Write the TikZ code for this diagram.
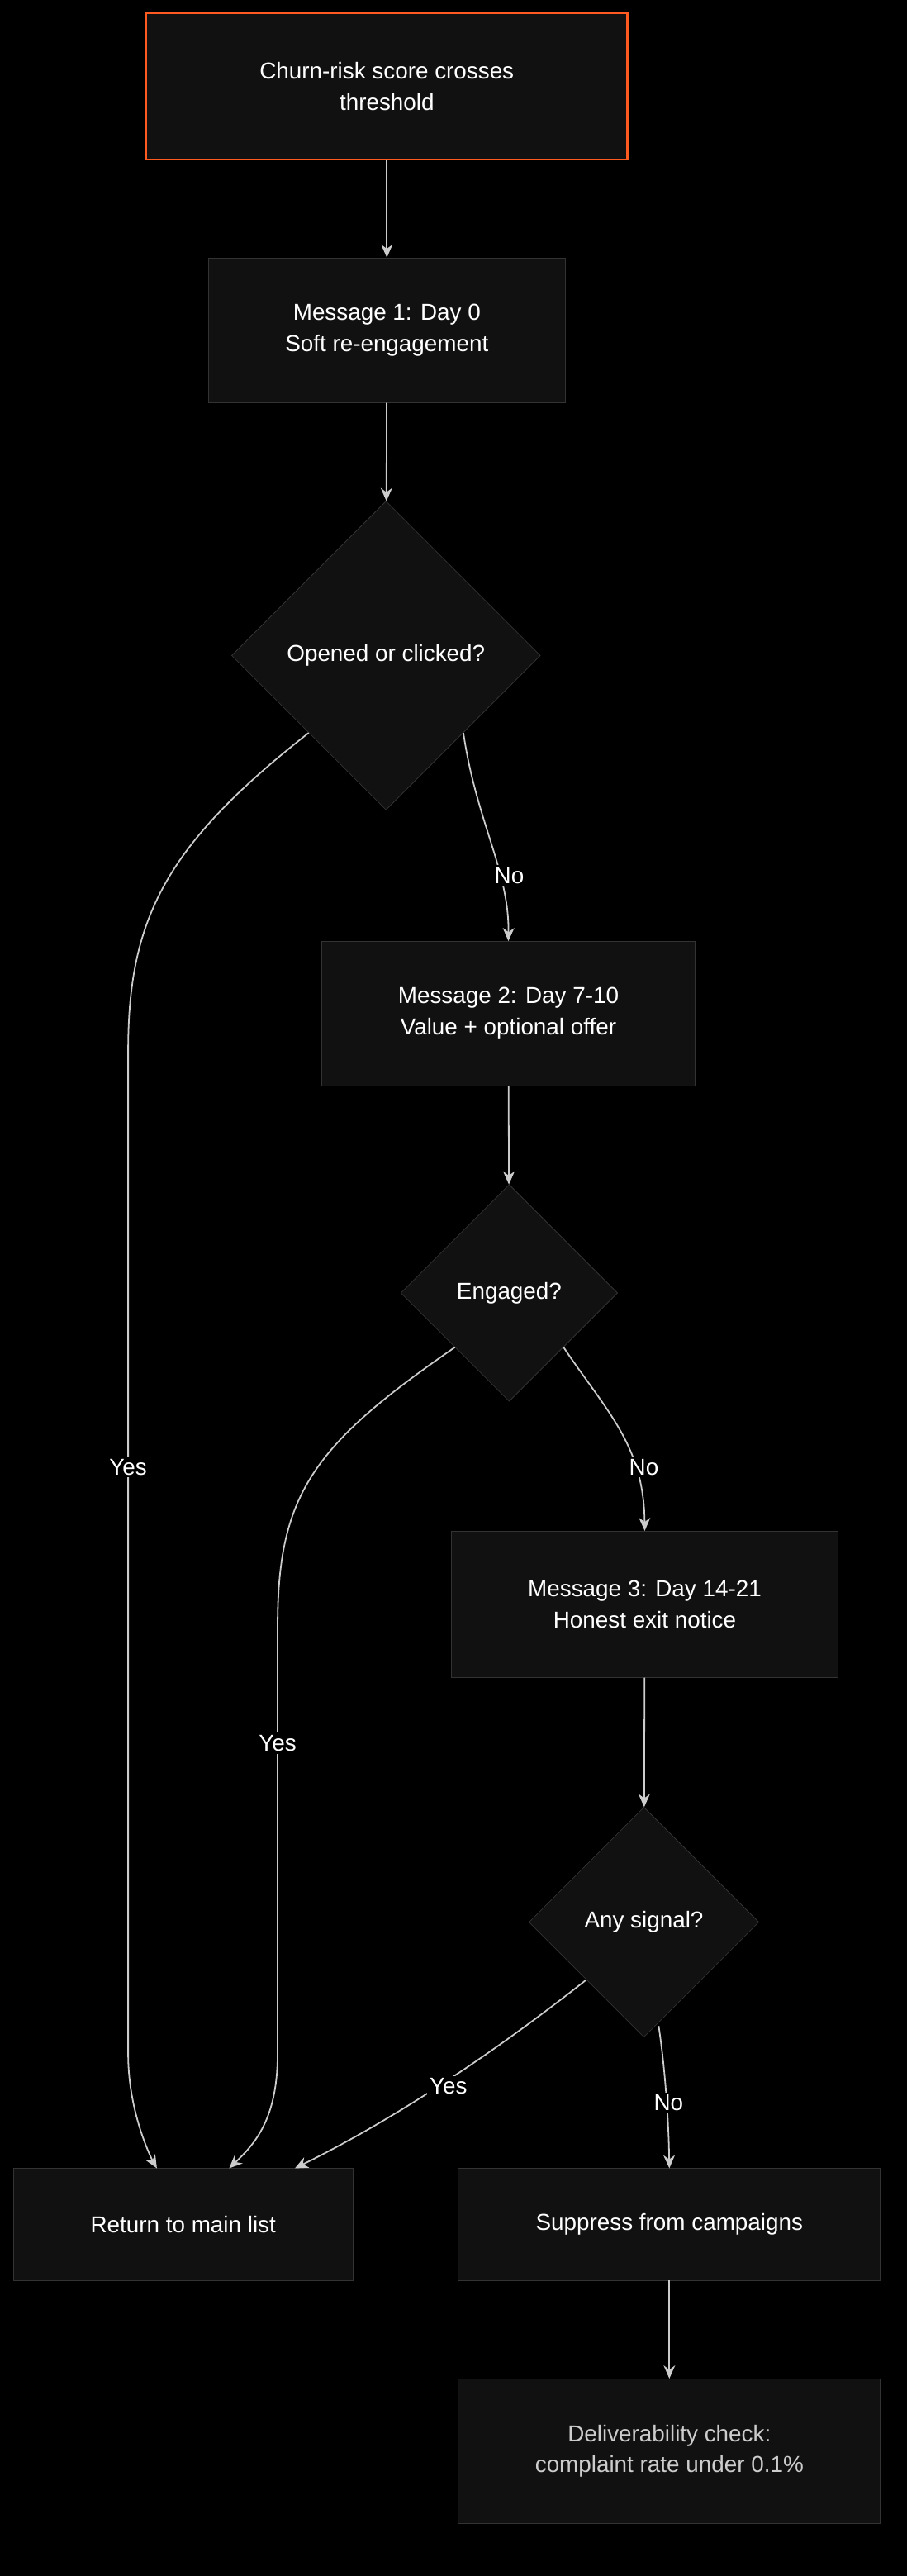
\documentclass[tikz,border=0pt]{standalone}
\usepackage{fontspec}
\setmainfont{Liberation Sans}
\usetikzlibrary{shapes.geometric,arrows.meta}

\definecolor{boxfill}{HTML}{111111}
\definecolor{boxline}{HTML}{333333}
\definecolor{startline}{HTML}{FF5A1F}
\definecolor{edgecol}{HTML}{CCCCCC}

\tikzset{
  stage/.style = {draw = boxline, fill = boxfill, text = white, align = center, inner sep = 0pt},
  check/.style = {diamond, aspect = 1, draw = boxline, fill = boxfill, text = white, inner sep = 0pt},
  flow/.style = {draw = edgecol, line width = 0.9pt, -{Stealth[length = 8pt, width = 7pt]}},
  tag/.style = {fill = black, text = white, inner sep = 1.5pt}
}

\begin{document}
\begin{tikzpicture}[x = 1pt, y = -1pt, font = \fontsize{14}{19}\selectfont]
        \fill [black] (0,0) rectangle (552,1568);
        \useasboundingbox (0,0) rectangle (552,1568);

        % boxes
        \node [stage, draw = startline, line width = 1.3pt, minimum width = 293pt, minimum height = 89pt] (start) at (235.5,52.5) {Churn-risk score crosses\\threshold};
        \node [stage, minimum width = 217pt, minimum height = 88pt] (msg1) at (235.5,201) {Message 1: Day 0\\Soft re-engagement};
        \node [check, minimum size = 188pt] (open) at (235,399) {Opened or clicked?};
        \node [stage, minimum width = 227pt, minimum height = 88pt] (msg2) at (309.5,617) {Message 2: Day 7-10\\Value + optional offer};
        \node [check, minimum size = 132pt] (engaged) at (310,787) {Engaged?};
        \node [stage, minimum width = 235pt, minimum height = 89pt] (msg3) at (392.5,976.5) {Message 3: Day 14-21\\Honest exit notice};
        \node [check, minimum size = 140pt] (signal) at (392,1170) {Any signal?};
        \node [stage, minimum width = 207pt, minimum height = 68pt] (back) at (111.5,1354) {Return to main list};
        \node [stage, minimum width = 257pt, minimum height = 68pt] (supp) at (407.5,1354) {Suppress from campaigns};
        \node [stage, text = edgecol, minimum width = 257pt, minimum height = 88pt] (deliv) at (407.5,1492) {Deliverability check:\\complaint rate under 0.1\%};

        % connectors
        \draw [flow] (start) -- (msg1);
        \draw [flow] (msg1) -- (open);
        \draw [flow] (open.south west) .. controls (100,515) and (78,560) .. (78,640) -- (78,1250) .. controls (78,1290) and ([xshift=-16pt]back.north) .. ([xshift=-16pt]back.north);
        \node [tag] at (78,893) {Yes};
        \draw [flow] (open.south east) .. controls (290,500) and (310,530) .. (msg2.north);
        \node [tag] at (310,533) {No};
        \draw [flow] (msg2) -- (engaged);
        \draw [flow] (engaged.south west) .. controls (190,880) and (169,910) .. (169,990) -- (169,1250) .. controls (169,1290) and (155,1305) .. ([xshift=28pt]back.north);
        \node [tag] at (169,1061) {Yes};
        \draw [flow] (engaged.south east) .. controls (370,860) and (392,880) .. (msg3.north);
        \node [tag] at (392,893) {No};
        \draw [flow] (msg3) -- (signal);
        \draw [flow] (signal.south west) .. controls (300,1250) and (240,1290) .. ([xshift=68pt]back.north);
        \node [tag] at (273,1270) {Yes};
        \draw [flow] ([xshift=9pt,yshift=7pt]signal.south) .. controls (405,1260) and (407,1290) .. (supp.north);
        \node [tag] at (407,1280) {No};
        \draw [flow] (supp) -- (deliv);
    \end{tikzpicture}
\end{document}
